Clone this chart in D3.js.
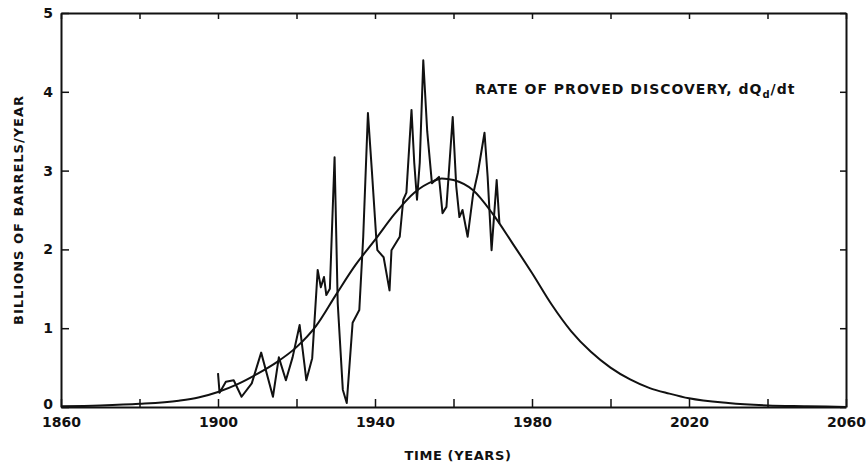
<!DOCTYPE html>
<html lang="en">
<head>
<meta charset="utf-8">
<title>Proved discovery</title>
<script src="https://cdnjs.cloudflare.com/ajax/libs/d3/7.8.5/d3.min.js"></script>
<style>
  body { margin: 0; background: #fff; }
  svg text { font-family: "DejaVu Sans", "Liberation Sans", sans-serif; fill: #111; }
  .axis path, .axis line { stroke: #111; }
  .axis text { font-size: 14px; font-weight: bold; }
</style>
</head>
<body>
<div id="chart"></div>
<script>
// smooth (fitted) curve
const curveYears = [1860, 1870, 1880, 1890, 1895, 1900, 1905, 1910, 1915, 1920, 1925, 1930, 1935, 1940, 1945, 1950, 1955, 1957, 1960, 1965, 1970, 1975, 1980, 1985, 1990, 1995, 2000, 2005, 2010, 2015, 2020, 2030, 2040, 2050, 2060];
const curveValues = [0.01, 0.02, 0.04, 0.08, 0.12, 0.19, 0.29, 0.42, 0.57, 0.76, 1.03, 1.42, 1.8, 2.12, 2.45, 2.72, 2.87, 2.9, 2.88, 2.75, 2.45, 2.08, 1.7, 1.3, 0.96, 0.7, 0.5, 0.35, 0.24, 0.17, 0.11, 0.05, 0.02, 0.01, 0.0];

// annual proved discoveries (jagged line)
const discYears = [1900, 1900.4, 1902, 1904, 1906, 1908.6, 1911, 1914, 1915.5, 1917.3, 1919, 1920.8, 1922, 1922.5, 1924, 1925.4, 1926.2, 1927, 1927.6, 1928.5, 1929.7, 1930.5, 1931.8, 1932.8, 1934.3, 1936, 1937, 1938.2, 1939.2, 1940.3, 1940.6, 1942.2, 1943.7, 1944.2, 1946.3, 1947.2, 1948, 1949.3, 1950, 1950.7, 1951.4, 1952.3, 1953.3, 1954.5, 1956.3, 1957.2, 1958.2, 1959.8, 1960.7, 1961.5, 1962.3, 1963.6, 1965, 1966.2, 1967.9, 1968.7, 1969.7, 1971, 1971.7];
const discValues = [0.43, 0.18, 0.32, 0.34, 0.13, 0.30, 0.69, 0.13, 0.63, 0.34, 0.63, 1.04, 0.55, 0.34, 0.62, 1.74, 1.52, 1.65, 1.42, 1.5, 3.17, 1.32, 0.22, 0.05, 1.07, 1.23, 2.16, 3.73, 3.0, 2.16, 1.99, 1.90, 1.48, 1.99, 2.16, 2.63, 2.72, 3.77, 3.1, 2.63, 3.1, 4.40, 3.5, 2.84, 2.92, 2.46, 2.54, 3.68, 2.8, 2.41, 2.5, 2.16, 2.7, 2.97, 3.48, 2.92, 1.99, 2.88, 2.33];

const xTicks = [1860, 1900, 1940, 1980, 2020, 2060];
const xMinor = [1880, 1920, 1960, 2000, 2040];
const yTicks = [0, 1, 2, 3, 4, 5];

const W = 867, H = 468;
const margin = {left: 61, top: 13, right: 21, bottom: 61};
const width = W - margin.left - margin.right;
const height = H - margin.top - margin.bottom;

const svg = d3.select("#chart").append("svg")
    .attr("width", W)
    .attr("height", H);

const g = svg.append("g")
    .attr("transform", "translate(" + margin.left + "," + margin.top + ")");

const x = d3.scaleLinear().domain([1860, 2060]).range([0, width]);
const y = d3.scaleLinear().domain([0, 5]).range([height, 0]);

const allX = xTicks.concat(xMinor).sort((a, b) => a - b);

// bottom axis, ticks pointing inward
g.append("g")
    .attr("class", "axis x")
    .attr("transform", "translate(0," + height + ")")
    .call(d3.axisBottom(x).tickValues(allX).tickSizeInner(-8).tickSizeOuter(0).tickPadding(10)
        .tickFormat(d => xTicks.includes(d) ? d : ""));

// top axis, no labels
g.append("g")
    .attr("class", "axis")
    .call(d3.axisTop(x).tickValues(allX).tickSizeInner(-6).tickSizeOuter(0).tickFormat(""));

// left axis
const yAxisG = g.append("g")
    .attr("class", "axis y")
    .call(d3.axisLeft(y).tickValues(yTicks).tickSizeInner(-8).tickSizeOuter(0).tickPadding(8)
        .tickFormat(d3.format("d")));

// lift the "0" a little so it clears the 1860 label
yAxisG.selectAll(".tick text").filter(d => d === 0).attr("dy", "0.1em");

// right axis
g.append("g")
    .attr("class", "axis")
    .attr("transform", "translate(" + width + ",0)")
    .call(d3.axisRight(y).tickValues(yTicks).tickSizeInner(-6).tickSizeOuter(0).tickFormat(""));

g.selectAll(".axis path").attr("stroke-width", 2);
g.selectAll(".axis line").attr("stroke-width", 1.5);

// lines
const smooth = d3.line()
    .x(d => x(d[0]))
    .y(d => y(d[1]))
    .curve(d3.curveMonotoneX);

g.append("path")
    .datum(curveYears.map((yr, i) => [yr, curveValues[i]]))
    .attr("fill", "none")
    .attr("stroke", "#111")
    .attr("stroke-width", 2)
    .attr("d", smooth);

const jag = d3.line()
    .x(d => x(d[0]))
    .y(d => y(d[1]));

g.append("path")
    .datum(discYears.map((yr, i) => [yr, discValues[i]]))
    .attr("fill", "none")
    .attr("stroke", "#111")
    .attr("stroke-width", 2)
    .attr("stroke-linejoin", "round")
    .attr("d", jag);

// label
const lab = g.append("text")
    .attr("x", 414)
    .attr("y", 81)
    .style("font-size", "14px")
    .style("font-weight", "bold")
    .style("letter-spacing", "1px");
lab.append("tspan").text("RATE OF PROVED DISCOVERY, dQ");
lab.append("tspan").attr("dy", 4).style("font-size", "10px").text("d");
lab.append("tspan").attr("dy", -4).text("/dt");

// axis titles
svg.append("text")
    .attr("x", 458)
    .attr("y", 460)
    .attr("text-anchor", "middle")
    .style("font-size", "13px")
    .style("font-weight", "bold")
    .style("letter-spacing", "0.6px")
    .text("TIME (YEARS)");

svg.append("text")
    .attr("transform", "translate(23,210) rotate(-90)")
    .attr("text-anchor", "middle")
    .style("font-size", "13px")
    .style("font-weight", "bold")
    .style("letter-spacing", "1px")
    .text("BILLIONS OF BARRELS/YEAR");
</script>
</body>
</html>
